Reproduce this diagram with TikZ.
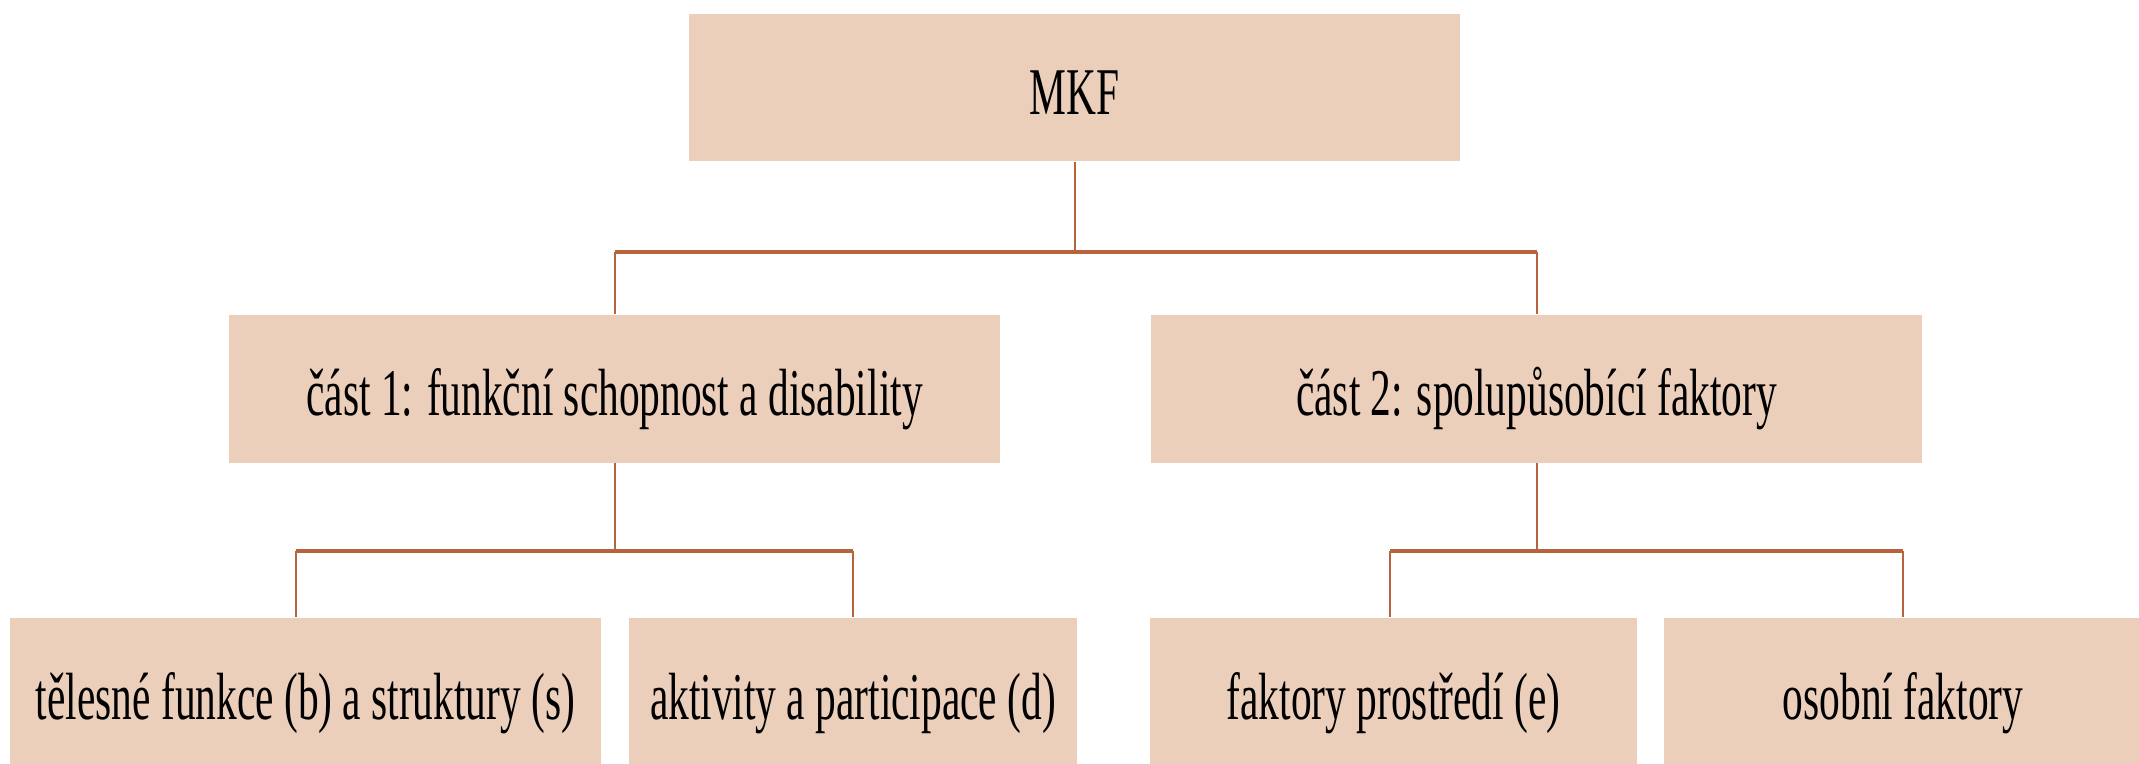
\documentclass[tikz,border=0pt]{standalone}
\usepackage{fontspec}
\setmainfont{Liberation Serif}[FakeStretch=0.62]
\usetikzlibrary{positioning}

\definecolor{boxfill}{RGB}{235,207,187}
\definecolor{linkcol}{RGB}{183,100,60}

\begin{document}
\begin{tikzpicture}[x=0.1mm, y=-0.1mm]

\tikzset{
  box/.style={
    rectangle, fill=boxfill, draw=none, align=center,
    minimum height=14.8mm, inner sep=0pt,
    text height=6mm, text depth=0.6mm,
    font=\fontsize{19}{22}\selectfont
  },
  link/.style={draw=linkcol, line width=0.2mm},
  bus/.style={draw=linkcol, line width=0.4mm}
}

\clip (0,0) rectangle (2139,764);

% =========================================================
% Top level
% =========================================================
\node[box, minimum width=77.1mm, minimum height=14.7mm] (mkf) at (1074.5,87.5) {MKF};

% =========================================================
% Parts
% =========================================================
\node[box, minimum width=77.1mm] (part1) at (614.5,388.5) {část 1: funkční schopnost a disability};
\node[box, minimum width=77.1mm] (part2) at (1536.5,388.5) {část 2: spolupůsobící faktory};

% =========================================================
% Components
% =========================================================
\node[box, minimum width=59.1mm] (leaf1) at (305.5,692) {tělesné funkce (b) a struktury (s)};
\node[box, minimum width=44.8mm] (leaf2) at (853,692) {aktivity a participace (d)};
\node[box, minimum width=48.7mm] (leaf3) at (1393.5,692) {faktory prostředí (e)};
\node[box, minimum width=47.8mm] (leaf4) at (1903,692) {osobní faktory};

% =========================================================
% Connectors
% =========================================================
\coordinate (bus1) at (0,252);
\coordinate (bus2) at (0,551);
\coordinate (drop1) at ([xshift=-1mm]leaf1.north);
\coordinate (drop3) at ([xshift=-0.35mm]leaf3.north);

\draw[link] (mkf.south) -- (mkf.south |- bus1);
\draw[bus] (part1.north |- bus1) -- (part2.north |- bus1);
\draw[link] (part1.north |- bus1) -- (part1.north);
\draw[link] (part2.north |- bus1) -- (part2.north);

\draw[link] (part1.south) -- (part1.south |- bus2);
\draw[bus] (drop1 |- bus2) -- (leaf2.north |- bus2);
\draw[link] (drop1 |- bus2) -- (drop1);
\draw[link] (leaf2.north |- bus2) -- (leaf2.north);

\draw[link] (part2.south) -- (part2.south |- bus2);
\draw[bus] (drop3 |- bus2) -- (leaf4.north |- bus2);
\draw[link] (drop3 |- bus2) -- (drop3);
\draw[link] (leaf4.north |- bus2) -- (leaf4.north);

\end{tikzpicture}
\end{document}
